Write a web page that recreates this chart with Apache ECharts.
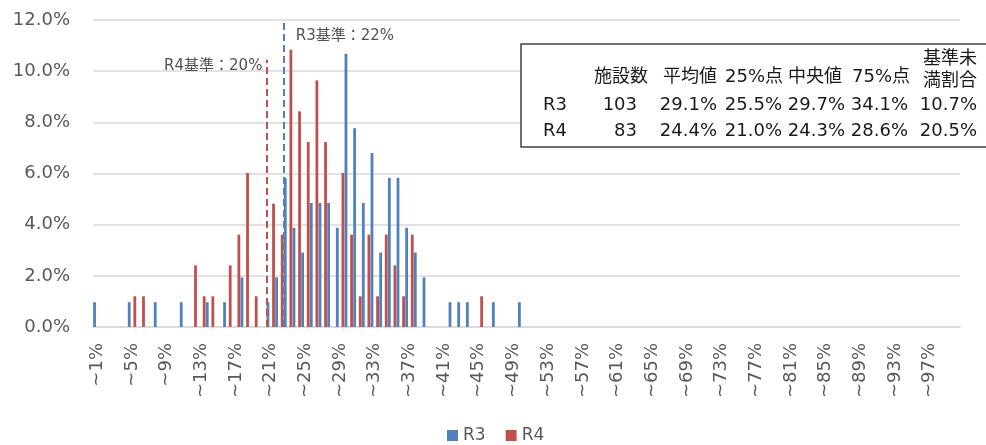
<!DOCTYPE html>
<html>
<head>
<meta charset="utf-8">
<script src="https://cdn.jsdelivr.net/npm/echarts@6/dist/echarts.min.js"></script>
<style>
    html, body { margin: 0; padding: 0; background: #fff; }
    #chart { width: 986px; height: 445px; }
</style>
</head>
<body>
<div id="chart"></div>
<script>
    // categories ~1% .. ~100%
    const categories = Array.from({length: 100}, (v, i) => '~' + (i + 1) + '%');

    // share of facilities (%) per category
    const r3Values = [
        0.97, 0, 0, 0, 0.97, 0, 0, 0.97, 0, 0,
        0.97, 0, 0, 0.97, 0, 0.97, 0, 1.94, 0, 0,
        0.97, 1.94, 5.83, 3.88, 2.91, 4.85, 4.85, 4.85, 3.88, 10.68,
        7.77, 4.85, 6.80, 2.91, 5.83, 5.83, 3.88, 2.91, 1.94, 0,
        0, 0.97, 0.97, 0.97, 0, 0, 0.97, 0, 0, 0.97,
        0, 0, 0, 0, 0, 0, 0, 0, 0, 0,
        0, 0, 0, 0, 0, 0, 0, 0, 0, 0,
        0, 0, 0, 0, 0, 0, 0, 0, 0, 0,
        0, 0, 0, 0, 0, 0, 0, 0, 0, 0,
        0, 0, 0, 0, 0, 0, 0, 0, 0, 0
    ];
    const r4Values = [
        0, 0, 0, 0, 1.20, 1.20, 0, 0, 0, 0,
        0, 2.41, 1.20, 1.20, 0, 2.41, 3.61, 6.02, 1.20, 0,
        4.82, 3.61, 10.84, 8.43, 7.23, 9.64, 7.23, 0, 6.02, 3.61,
        1.20, 3.61, 1.20, 3.61, 2.41, 1.20, 3.61, 0, 0, 0,
        0, 0, 0, 0, 1.20, 0, 0, 0, 0, 0,
        0, 0, 0, 0, 0, 0, 0, 0, 0, 0,
        0, 0, 0, 0, 0, 0, 0, 0, 0, 0,
        0, 0, 0, 0, 0, 0, 0, 0, 0, 0,
        0, 0, 0, 0, 0, 0, 0, 0, 0, 0,
        0, 0, 0, 0, 0, 0, 0, 0, 0, 0
    ];

    // standard lines
    const r3Standard = 22;
    const r4Standard = 20;
    const r3Label = 'R3基準：22%';
    const r4Label = 'R4基準：20%';

    // summary table
    const tableHeaders = ['施設数', '平均値', '25%点', '中央値', '75%点', '基準未\n満割合'];
    const tableRowR3 = ['R3', '103', '29.1%', '25.5%', '29.7%', '34.1%', '10.7%'];
    const tableRowR4 = ['R4', '83', '24.4%', '21.0%', '24.3%', '28.6%', '20.5%'];

    const BLUE = '#4F81BD';
    const RED = '#C0504D';
    const FONT = "'DejaVu Sans', 'Noto Sans CJK JP', sans-serif";

    // table layout
    const headerRight = [648, 717, 783, 842, 910, 977];
    const cellRight = [637, 717, 782, 845, 908, 977];
    const graphics = [{
        type: 'rect',
        shape: {x: 521, y: 44, width: 480, height: 103},
        style: {fill: '#fff', stroke: '#404040', lineWidth: 1.5},
        z: 10
    }];
    tableHeaders.forEach((h, i) => {
        const twoLine = h.indexOf('\n') >= 0;
        graphics.push({
            type: 'text', x: headerRight[i], y: twoLine ? 70 : 77, z: 11,
            style: {text: h, font: '18px ' + FONT, fill: '#1a1a1a',
                align: 'right', verticalAlign: 'middle', lineHeight: 22}
        });
    });
    [[tableRowR3, 105], [tableRowR4, 131]].forEach(([row, y]) => {
        row.forEach((cell, i) => {
            graphics.push({
                type: 'text', z: 11,
                x: i === 0 ? 543 : cellRight[i - 1], y: y,
                style: {text: cell, font: '18px ' + FONT, fill: '#1a1a1a',
                    align: i === 0 ? 'left' : 'right', verticalAlign: 'middle'}
            });
        });
    });

    const chart = echarts.init(document.getElementById('chart'));
    chart.setOption({
        animation: false,
        backgroundColor: '#fff',
        textStyle: {fontFamily: FONT},
        grid: {left: 93, right: 26, top: 20, bottom: 118},
        legend: {
            data: ['R3', 'R4'],
            left: 442, top: 422,
            itemWidth: 11, itemHeight: 11, itemGap: 20,
            icon: 'rect',
            textStyle: {fontSize: 17, color: '#595959', fontFamily: FONT}
        },
        xAxis: [{
            type: 'category',
            data: categories,
            axisLine: {lineStyle: {color: '#d9d9d9', width: 1.5}},
            axisTick: {show: false},
            splitLine: {show: false},
            axisLabel: {
                interval: 3, rotate: 90, margin: 16,
                fontSize: 18, color: '#595959', fontFamily: FONT
            }
        }, {
            type: 'value', min: 0, max: 100, show: false
        }],
        yAxis: {
            type: 'value', min: 0, max: 12, interval: 2,
            axisLine: {show: false},
            axisTick: {show: false},
            splitLine: {lineStyle: {color: '#d9d9d9', width: 1.5}},
            axisLabel: {
                margin: 23, fontSize: 18, color: '#595959', fontFamily: FONT,
                formatter: v => v.toFixed(1) + '%'
            }
        },
        graphic: graphics,
        series: [{
            name: 'R3', type: 'bar', data: r3Values,
            itemStyle: {color: BLUE},
            barGap: '100%', barCategoryGap: '3%'
        }, {
            name: 'R4', type: 'bar', data: r4Values,
            itemStyle: {color: RED},
            barGap: '100%', barCategoryGap: '3%'
        }, {
            name: 'standard', type: 'scatter', xAxisIndex: 1,
            symbolSize: 0, silent: true, z: 5,
            data: [{
                value: [r4Standard, 10.2],
                label: {show: true, position: 'left', distance: 4, formatter: r4Label}
            }, {
                value: [r3Standard, 11.38],
                label: {show: true, position: 'right', distance: 12, formatter: r3Label}
            }],
            label: {fontSize: 15, color: '#262626', fontFamily: FONT},
            markLine: {
                silent: true,
                symbol: ['none', 'none'],
                label: {show: false},
                data: [
                    [{coord: [r4Standard, 0], lineStyle: {color: RED, width: 2, type: [7, 4]}},
                     {coord: [r4Standard, 10.45]}],
                    [{coord: [r3Standard, 0], lineStyle: {color: BLUE, width: 2, type: [7, 4]}},
                     {coord: [r3Standard, 12]}]
                ]
            }
        }]
    });
</script>
</body>
</html>
